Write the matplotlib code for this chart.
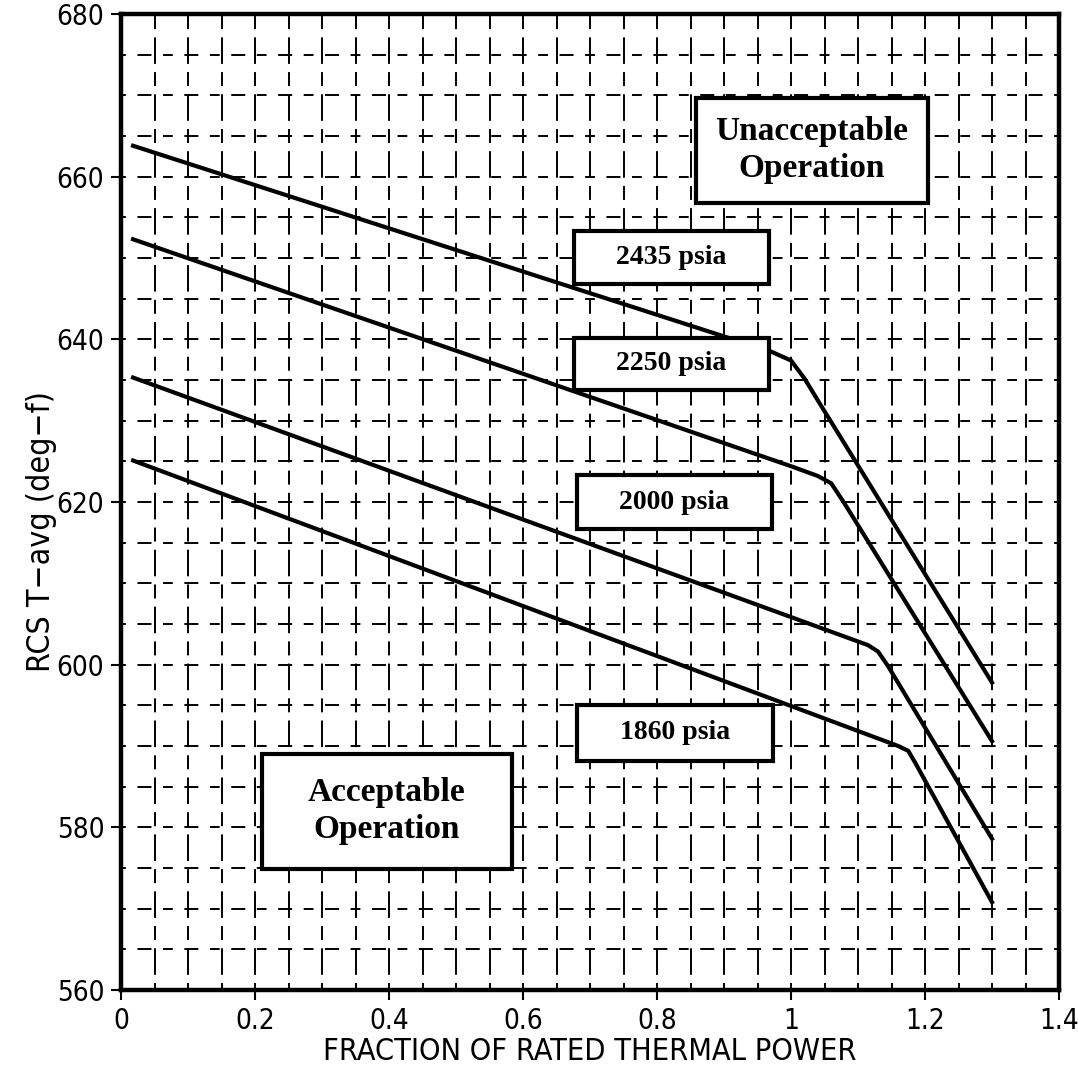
import numpy as np
import matplotlib.pyplot as plt
from matplotlib.patches import Rectangle
from matplotlib import font_manager

# curva por presion: fraccion de potencia termica vs T-avg (deg-f)
x_2435 = [0.018, 0.97, 1.00, 1.02, 1.04, 1.30]
y_2435 = [663.8, 638.5, 637.4, 635.2, 632.5, 597.8]

x_2250 = [0.018, 1.00, 1.04, 1.06, 1.08, 1.30]
y_2250 = [652.3, 624.4, 623.2, 622.3, 619.8, 590.6]

x_2000 = [0.018, 1.115, 1.13, 1.145, 1.30]
y_2000 = [635.3, 602.4, 601.6, 599.8, 578.6]

x_1860 = [0.018, 1.16, 1.175, 1.185, 1.30]
y_1860 = [625.1, 590.0, 589.4, 588.0, 570.8]

etiquetas = ['2435 psia', '2250 psia', '2000 psia', '1860 psia']
xticks = [0, 0.2, 0.4, 0.6, 0.8, 1.0, 1.2, 1.4]
xtick_labels = ['0', '0.2', '0.4', '0.6', '0.8', '1', '1.2', '1.4']
yticks = [560, 580, 600, 620, 640, 660, 680]

# fuente estrecha para los ejes, si hay una condensada instalada
hay_condensada = any(f.name == 'DejaVu Sans' and f.stretch in ('condensed', 500, 'semi-condensed')
                     for f in font_manager.fontManager.ttflist)
if hay_condensada:
    eje = dict(family='DejaVu Sans', stretch='condensed')
    t_ticks, t_xlab, t_ylab = 20, 22, 23
else:
    eje = dict(family='DejaVu Sans')
    t_ticks, t_xlab, t_ylab = 17, 20, 21
fuente_caja = 'Liberation Serif'

W, H = 1078, 1074
fig = plt.figure(figsize=(W / 100, H / 100), dpi=100)
L, R, T, B = 121, 1059, 14, 990
ax = fig.add_axes([L / W, (H - B) / H, (R - L) / W, (B - T) / H])
ax.set_xlim(0, 1.4)
ax.set_ylim(560, 680)

# rejilla discontinua con cruces en las intersecciones
pt = 72 / fig.dpi
dx = (R - L) / 1.4 * 0.05 * pt
dy = (B - T) / 120 * 5 * pt
cx, mx = 7 * pt, 10 * pt
gx = (dx - cx - mx) / 2
cy, my = 10 * pt, 19 * pt
gy = (dy - cy - my) / 2
for yv in np.arange(565, 680, 5):
    ax.axhline(yv, color='black', lw=1.4, zorder=1,
               linestyle=(cx / 2, (cx, gx, mx, gx)))
for xv in np.arange(0.05, 1.4, 0.05):
    ax.axvline(xv, color='black', lw=1.4, zorder=1,
               linestyle=(cy / 2, (cy, gy, my, gy)))

for xs, ys in [(x_2435, y_2435), (x_2250, y_2250), (x_2000, y_2000), (x_1860, y_1860)]:
    ax.plot(xs, ys, color='black', lw=3, solid_joinstyle='round', zorder=3)

# cajas de texto (x0, y0, ancho, alto) en coordenadas de datos
cajas = [
    (0.676, 646.8, 0.291, 6.5),
    (0.676, 633.8, 0.291, 6.4),
    (0.681, 616.7, 0.290, 6.6),
    (0.681, 588.1, 0.292, 7.0),
]
for (x0, y0, w, h), txt in zip(cajas, etiquetas):
    ax.add_patch(Rectangle((x0, y0), w, h, facecolor='white', edgecolor='black',
                           lw=3, zorder=4))
    ax.text(x0 + w / 2, y0 + h / 2, txt, ha='center', va='center', fontsize=20,
            fontweight='bold', family=fuente_caja, zorder=5)

for (x0, y0, w, h), txt in [((0.858, 656.8, 0.346, 12.9), 'Unacceptable\nOperation'),
                            ((0.210, 574.9, 0.374, 14.1), 'Acceptable\nOperation')]:
    ax.add_patch(Rectangle((x0, y0), w, h, facecolor='white', edgecolor='black',
                           lw=3, zorder=4))
    ax.text(x0 + w / 2, y0 + h / 2, txt, ha='center', va='center', fontsize=24,
            fontweight='bold', family=fuente_caja, linespacing=1.25, zorder=5)

ax.set_xticks(xticks)
ax.set_xticklabels(xtick_labels)
ax.set_yticks(yticks)
ax.tick_params(direction='out', length=7, width=1.5, labelsize=t_ticks, pad=5)
for lab in ax.get_xticklabels() + ax.get_yticklabels():
    lab.set_family(eje['family'])
    lab.set_stretch(eje.get('stretch', 'normal'))
for s in ax.spines.values():
    s.set_linewidth(3.2)
    s.set_zorder(6)

ax.set_xlabel('FRACTION OF RATED THERMAL POWER', fontsize=t_xlab, **eje)
ax.xaxis.set_label_coords(0.5, -0.048)
ax.set_ylabel('RCS T\u2212avg (deg\u2212f)', fontsize=t_ylab, **eje)
ax.yaxis.set_label_coords(-0.068, 0.47)

plt.savefig('out.png', dpi=100)
